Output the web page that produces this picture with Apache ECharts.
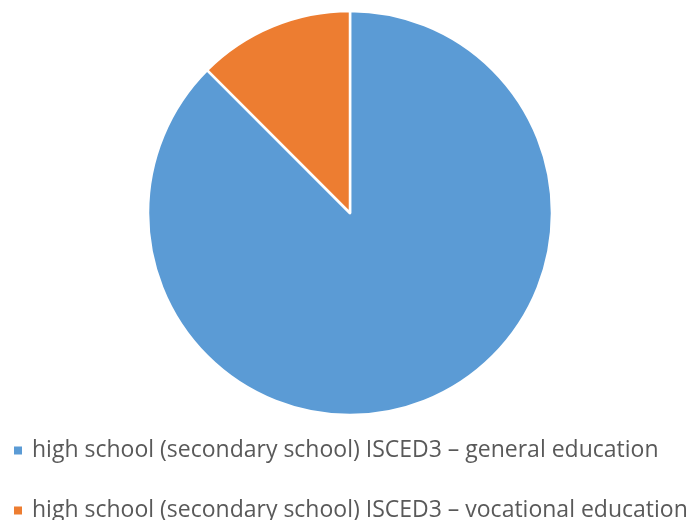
<!DOCTYPE html>
<html>
<head>
<meta charset="utf-8">
<script src="https://cdn.jsdelivr.net/npm/echarts@6/dist/echarts.min.js"></script>
<style>
  html, body { margin: 0; padding: 0; background: #fff; }
  #chart { width: 698px; height: 520px; }
</style>
</head>
<body>
<div id="chart"></div>
<script>
// Share of upper-secondary students by programme type
const categories = [
  'high school (secondary school) ISCED3 \u2013 general education',
  'high school (secondary school) ISCED3 \u2013 vocational education'
];
const shares = [87.5, 12.5];
const colors = ['#5B9BD5', '#ED7D31'];

// One legend block per entry, stacked under the pie
const legendTops = [439, 499];
const legends = categories.map((name, i) => ({
  left: 12,
  top: legendTops[i],
  padding: 0,
  itemWidth: 10,
  itemHeight: 10,
  icon: 'rect',
  textStyle: {
    fontFamily: 'Open Sans',
    fontSize: 23,
    lineHeight: 23,
    color: '#595959',
    padding: [0, 0, 0, 4]
  },
  data: [name]
}));

const chart = echarts.init(document.getElementById('chart'));
chart.setOption({
  animation: false,
  color: colors,
  legend: legends,
  series: [{
    type: 'pie',
    center: [350, 213],
    radius: [0, 202],
    startAngle: 90,
    clockwise: true,
    label: { show: false },
    labelLine: { show: false },
    itemStyle: { borderColor: '#fff', borderWidth: 2.5 },
    emphasis: { disabled: true },
    data: categories.map((name, i) => ({ name, value: shares[i] }))
  }]
});
</script>
</body>
</html>
